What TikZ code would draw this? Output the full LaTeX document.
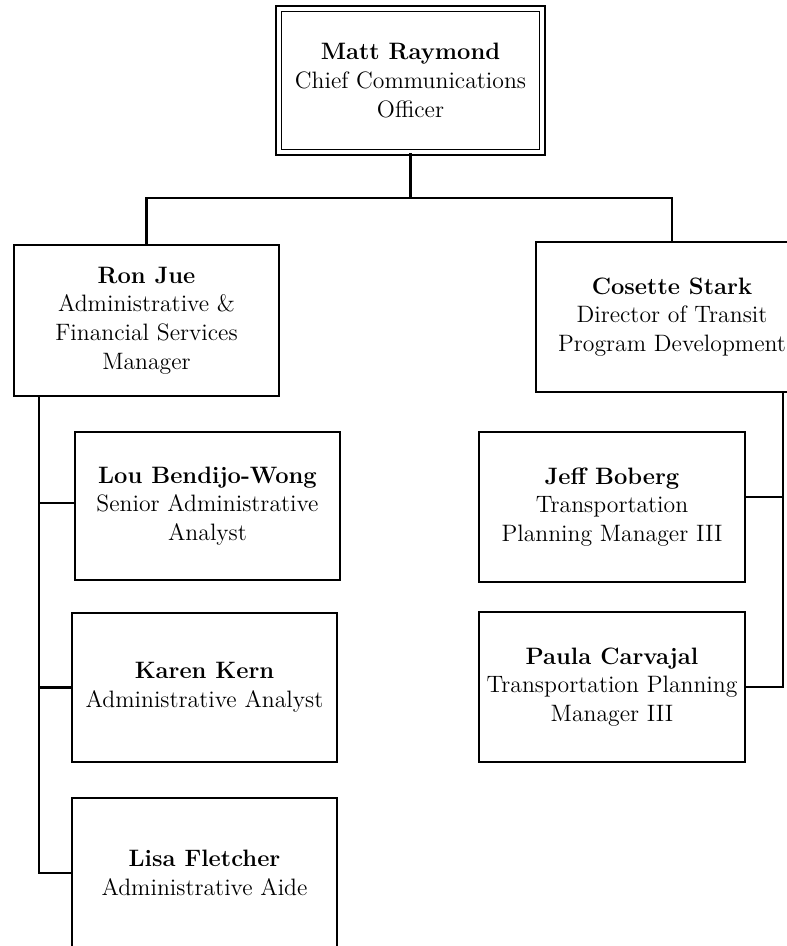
\documentclass[tikz,border=0pt]{standalone}
\usepackage{tikz}
\usetikzlibrary{positioning,calc}

\tikzset{
  person/.style={draw, line width=1.3pt, minimum width=5.3cm, minimum height=3cm,
    inner sep=0pt, align=center, font=\fontsize{13.5}{16.3}\selectfont},
  chief/.style={person, line width=1.1pt, double, double distance=2pt,
    minimum width=5.27cm, minimum height=2.87cm},
  link/.style={line width=1.2pt}
}

\begin{document}
\begin{tikzpicture}[x=0.02cm, y=-0.02cm]
\useasboundingbox (0,0) rectangle (787,946);

% Chief box at the top
\node[chief] (cco) at (410.5,80.5) {\textbf{Matt Raymond}\\Chief Communications\\Officer};

% Second level
\node[person, minimum height=3.02cm] (ron) at (146.5,320.5) {\textbf{Ron Jue}\\Administrative \&\\Financial Services\\Manager};
\node[person, minimum width=5.44cm] (cosette) at (672,317) {\textbf{Cosette Stark}\\Director of Transit\\Program Development};

% Left column
\node[person, minimum height=2.96cm] (lou) at (207.5,506) {\textbf{Lou Bendijo-Wong}\\Senior Administrative\\Analyst};
\node[person, minimum height=2.98cm] (karen) at (204.5,687.5) {\textbf{Karen Kern}\\Administrative Analyst};
\node[person] (lisa) at (204.5,873) {\textbf{Lisa Fletcher}\\Administrative Aide};

% Right column
\node[person, minimum width=5.32cm] (jeff) at (612,507) {\textbf{Jeff Boberg}\\Transportation\\Planning Manager III};
\node[person, minimum width=5.32cm] (paula) at (612,687) {\textbf{Paula Carvajal}\\Transportation Planning\\Manager III};

% Connectors
\draw[link] (cco.south) -- ++(0,44.5) coordinate (bus);
\draw[link] (ron.north) |- (bus) -| (cosette.north);

\coordinate (ltrunk) at ($(ron.south west)+(26,0)$);
\draw[link] (ltrunk) |- (lisa.west);
\draw[link] (ltrunk) |- ($(lou.west)+(0,-3)$);
\draw[link] (ltrunk) |- (karen.west);

\coordinate (rtrunk) at ($(cosette.south west)+(248,0)$);
\draw[link] (rtrunk) |- (paula.east);
\draw[link] (rtrunk) |- ($(jeff.east)+(0,-10)$);

\end{tikzpicture}
\end{document}
